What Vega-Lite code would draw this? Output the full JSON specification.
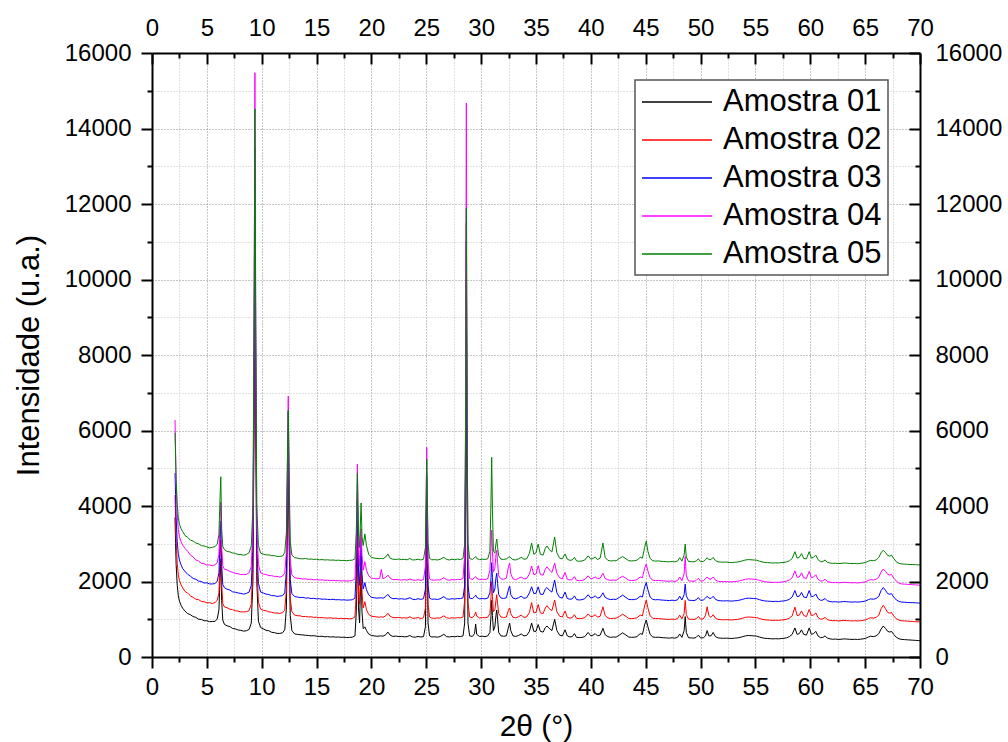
{
"$schema": "https://vega.github.io/schema/vega-lite/v6.json",
"width": 768, "height": 604,
"autosize": {"type": "none"},
"padding": {"left": 152, "top": 53, "right": 88, "bottom": 85},
"background": "white",
"config": {"view": {"stroke": null}, "font": "Liberation Sans",
  "axis": {"labelFont": "Liberation Sans", "titleFont": "Liberation Sans", "labelColor": "black", "titleColor": "black", "labelFlush": false, "labelOverlap": false, "titleFontWeight": "normal"}},
"resolve": {"axis": {"x": "independent", "y": "independent"}},
"layer": [
{
 "data": {"values": [{"t": 0, "v": 0}]},
 "mark": {"type": "point", "opacity": 0},
 "encoding": {
  "x": {"field": "t", "type": "quantitative", "scale": {"domain": [0, 70], "nice": false, "zero": false},
   "axis": {"orient": "bottom", "values": [2.5,7.5,12.5,17.5,22.5,27.5,32.5,37.5,42.5,47.5,52.5,57.5,62.5,67.5], "grid": true, "gridColor": "#c4c4c4", "gridDash": [1, 2], "gridWidth": 1, "ticks": true, "tickSize": 5, "tickWidth": 2, "tickColor": "black", "labels": false, "domain": false, "title": null, "zindex": 0}},
  "y": {"field": "v", "type": "quantitative", "scale": {"domain": [0, 16000], "nice": false},
   "axis": {"orient": "left", "values": [1000,3000,5000,7000,9000,11000,13000,15000], "grid": true, "gridColor": "#c4c4c4", "gridDash": [1, 2], "gridWidth": 1, "ticks": true, "tickSize": 5, "tickWidth": 2, "tickColor": "black", "labels": false, "domain": false, "title": null, "zindex": 0}}
 }
},
{
 "data": {"values": [{"t": 0, "v": 0}]},
 "mark": {"type": "point", "opacity": 0},
 "encoding": {
  "x": {"field": "t", "type": "quantitative", "scale": {"domain": [0, 70], "nice": false, "zero": false},
   "axis": {"orient": "bottom", "values": [5,10,15,20,25,30,35,40,45,50,55,60,65], "grid": true, "gridColor": "#8c8c8c", "gridDash": [1, 2], "gridWidth": 1, "ticks": false, "labels": false, "domain": false, "title": null, "zindex": 0}},
  "y": {"field": "v", "type": "quantitative", "scale": {"domain": [0, 16000], "nice": false},
   "axis": {"orient": "left", "values": [2000,4000,6000,8000,10000,12000,14000], "grid": true, "gridColor": "#8c8c8c", "gridDash": [1, 2], "gridWidth": 1, "ticks": false, "labels": false, "domain": false, "title": null, "zindex": 0}}
 }
},
{
 "data": {"values": [{"t": 0, "v": 0}]},
 "mark": {"type": "point", "opacity": 0},
 "encoding": {
  "x": {"field": "t", "type": "quantitative", "scale": {"domain": [0, 70], "nice": false, "zero": false},
   "axis": {"orient": "top", "values": [2.5,7.5,12.5,17.5,22.5,27.5,32.5,37.5,42.5,47.5,52.5,57.5,62.5,67.5], "grid": false, "ticks": true, "tickSize": -5, "tickWidth": 2, "tickColor": "black", "labels": false, "domain": false, "title": null, "zindex": 1}},
  "y": {"field": "v", "type": "quantitative", "scale": {"domain": [0, 16000], "nice": false},
   "axis": {"orient": "right", "values": [1000,3000,5000,7000,9000,11000,13000,15000], "grid": false, "ticks": true, "tickSize": -5, "tickWidth": 2, "tickColor": "black", "labels": false, "domain": false, "title": null, "zindex": 1}}
 }
},
{
 "data": {"values": [{"t": 0, "v": 0}]},
 "mark": {"type": "point", "opacity": 0},
 "encoding": {
  "x": {"field": "t", "type": "quantitative", "scale": {"domain": [0, 70], "nice": false, "zero": false},
   "axis": {"orient": "top", "values": [0,5,10,15,20,25,30,35,40,45,50,55,60,65,70], "format": "d", "grid": false, "ticks": true, "tickSize": -11, "tickWidth": 2, "tickColor": "black", "labels": true, "labelFontSize": 24, "labelPadding": 24, "domain": true, "domainWidth": 2, "domainColor": "black", "title": null, "zindex": 1}},
  "y": {"field": "v", "type": "quantitative", "scale": {"domain": [0, 16000], "nice": false},
   "axis": {"orient": "right", "values": [0,2000,4000,6000,8000,10000,12000,14000,16000], "format": "d", "grid": false, "ticks": true, "tickSize": -11, "tickWidth": 2, "tickColor": "black", "labels": true, "labelFontSize": 24, "labelPadding": 26, "domain": true, "domainWidth": 2, "domainColor": "black", "title": null, "zindex": 1}}
 }
},
{
 "data": {"values": [
{"t":2.1,"1":3700,"2":4290,"3":4870,"4":6280,"5":5940},
{"t":2.15,"1":3000,"2":3700,"3":4300,"4":5400,"5":5300},
{"t":2.2,"1":2450,"2":3100,"3":3700,"4":4600,"5":4700},
{"t":2.3,"1":1900,"2":2480,"3":3050,"4":3800,"5":4050},
{"t":2.4,"1":1620,"2":2170,"3":2720,"4":3380,"5":3680},
{"t":2.5,"1":1480,"2":2030,"3":2570,"4":3190,"5":3520},
{"t":2.65,"1":1370,"2":1910,"3":2440,"4":3050,"5":3400},
{"t":2.8,"1":1290,"2":1830,"3":2340,"4":2960,"5":3320},
{"t":3.0,"1":1220,"2":1740,"3":2270,"4":2880,"5":3220},
{"t":3.25,"1":1150,"2":1690,"3":2190,"4":2800,"5":3170},
{"t":3.5,"1":1120,"2":1620,"3":2140,"4":2700,"5":3100},
{"t":3.75,"1":1070,"2":1580,"3":2080,"4":2650,"5":3070},
{"t":4.0,"1":1050,"2":1530,"3":2060,"4":2570,"5":3020},
{"t":4.25,"1":1000,"2":1520,"3":2010,"4":2540,"5":3000},
{"t":4.5,"1":995,"2":1470,"3":2000,"4":2480,"5":2950},
{"t":4.75,"1":960,"2":1465,"3":1960,"4":2470,"5":2940},
{"t":5.0,"1":960,"2":1435,"3":1965,"4":2435,"5":2915},
{"t":5.25,"1":935,"2":1440,"3":1935,"4":2440,"5":2890},
{"t":5.5,"1":940,"2":1415,"3":1935,"4":2415,"5":2905},
{"t":5.75,"1":945,"2":1445,"3":1945,"4":2445,"5":2925},
{"t":5.95,"1":1010,"2":1500,"3":2010,"4":2500,"5":2990},
{"t":6.1,"1":1250,"2":1700,"3":2230,"4":2720,"5":3250},
{"t":6.2,"1":2100,"2":2600,"3":3100,"4":3600,"5":4200},
{"t":6.27,"1":2600,"2":3100,"3":3600,"4":4100,"5":4775},
{"t":6.35,"1":1500,"2":1950,"3":2450,"4":2950,"5":3400},
{"t":6.45,"1":980,"2":1420,"3":1920,"4":2420,"5":2930},
{"t":6.6,"1":865,"2":1325,"3":1835,"4":2325,"5":2845},
{"t":6.85,"1":825,"2":1305,"3":1795,"4":2305,"5":2795},
{"t":7.1,"1":805,"2":1265,"3":1775,"4":2265,"5":2785},
{"t":7.35,"1":755,"2":1255,"3":1725,"4":2245,"5":2755},
{"t":7.6,"1":745,"2":1225,"3":1715,"4":2215,"5":2745},
{"t":7.85,"1":715,"2":1215,"3":1695,"4":2205,"5":2715},
{"t":8.1,"1":705,"2":1195,"3":1685,"4":2185,"5":2715},
{"t":8.35,"1":685,"2":1195,"3":1665,"4":2185,"5":2695},
{"t":8.6,"1":695,"2":1200,"3":1685,"4":2190,"5":2715},
{"t":8.85,"1":730,"2":1230,"3":1720,"4":2230,"5":2760},
{"t":9.05,"1":900,"2":1400,"3":1900,"4":2400,"5":2950},
{"t":9.2,"1":2000,"2":2500,"3":3000,"4":3500,"5":4000},
{"t":9.3,"1":6000,"2":6800,"3":7500,"4":8500,"5":8500},
{"t":9.38,"1":11500,"2":12500,"3":13500,"4":15480,"5":14520},
{"t":9.46,"1":6000,"2":6800,"3":7500,"4":8500,"5":8500},
{"t":9.55,"1":2000,"2":2500,"3":3000,"4":3500,"5":4000},
{"t":9.7,"1":950,"2":1450,"3":1950,"4":2450,"5":2950},
{"t":9.9,"1":780,"2":1270,"3":1720,"4":2230,"5":2750},
{"t":10.15,"1":745,"2":1235,"3":1695,"4":2195,"5":2725},
{"t":10.4,"1":705,"2":1225,"3":1665,"4":2185,"5":2705},
{"t":10.65,"1":695,"2":1195,"3":1655,"4":2155,"5":2705},
{"t":10.9,"1":655,"2":1185,"3":1625,"4":2155,"5":2685},
{"t":11.15,"1":645,"2":1165,"3":1625,"4":2135,"5":2685},
{"t":11.4,"1":625,"2":1165,"3":1605,"4":2135,"5":2665},
{"t":11.65,"1":625,"2":1155,"3":1615,"4":2115,"5":2665},
{"t":11.9,"1":640,"2":1175,"3":1625,"4":2145,"5":2675},
{"t":12.1,"1":720,"2":1240,"3":1700,"4":2220,"5":2770},
{"t":12.25,"1":1300,"2":1800,"3":2300,"4":2800,"5":3300},
{"t":12.34,"1":3500,"2":4000,"3":4500,"4":5000,"5":5200},
{"t":12.42,"1":5500,"2":6000,"3":6500,"4":6910,"5":6540},
{"t":12.5,"1":3000,"2":3400,"3":3900,"4":4400,"5":4800},
{"t":12.6,"1":1100,"2":1550,"3":2050,"4":2550,"5":3050},
{"t":12.75,"1":700,"2":1200,"3":1680,"4":2180,"5":2700},
{"t":13.0,"1":610,"2":1110,"3":1600,"4":2100,"5":2630},
{"t":13.25,"1":600,"2":1095,"3":1590,"4":2085,"5":2620},
{"t":13.5,"1":590,"2":1090,"3":1575,"4":2080,"5":2605},
{"t":13.75,"1":585,"2":1070,"3":1580,"4":2065,"5":2600},
{"t":14.0,"1":575,"2":1075,"3":1560,"4":2070,"5":2610},
{"t":14.25,"1":570,"2":1060,"3":1565,"4":2055,"5":2590},
{"t":14.5,"1":560,"2":1065,"3":1550,"4":2060,"5":2595},
{"t":14.75,"1":565,"2":1050,"3":1555,"4":2045,"5":2585},
{"t":15.0,"1":550,"2":1055,"3":1540,"4":2050,"5":2590},
{"t":15.25,"1":545,"2":1040,"3":1545,"4":2040,"5":2575},
{"t":15.5,"1":550,"2":1045,"3":1530,"4":2045,"5":2580},
{"t":15.75,"1":535,"2":1035,"3":1535,"4":2030,"5":2570},
{"t":16.0,"1":540,"2":1030,"3":1525,"4":2035,"5":2575},
{"t":16.25,"1":530,"2":1040,"3":1520,"4":2025,"5":2565},
{"t":16.5,"1":535,"2":1025,"3":1530,"4":2030,"5":2570},
{"t":16.75,"1":525,"2":1030,"3":1515,"4":2020,"5":2560},
{"t":17.0,"1":530,"2":1020,"3":1520,"4":2025,"5":2565},
{"t":17.25,"1":520,"2":1025,"3":1510,"4":2015,"5":2555},
{"t":17.5,"1":525,"2":1015,"3":1515,"4":2020,"5":2560},
{"t":17.75,"1":515,"2":1020,"3":1505,"4":2010,"5":2550},
{"t":18.0,"1":520,"2":1010,"3":1510,"4":2015,"5":2560},
{"t":18.25,"1":525,"2":1020,"3":1515,"4":2025,"5":2565},
{"t":18.5,"1":560,"2":1060,"3":1560,"4":2070,"5":2600},
{"t":18.62,"1":1200,"2":1700,"3":2300,"4":2900,"5":3300},
{"t":18.72,"1":3000,"2":3600,"3":4200,"4":5110,"5":4870},
{"t":18.82,"1":1300,"2":1800,"3":2300,"4":2900,"5":3300},
{"t":18.92,"1":900,"2":1400,"3":1900,"4":2400,"5":2900},
{"t":19.0,"1":1800,"2":2300,"3":2700,"4":3200,"5":3600},
{"t":19.06,"1":2300,"2":2700,"3":3100,"4":3400,"5":4080},
{"t":19.14,"1":1200,"2":1700,"3":2200,"4":2700,"5":3200},
{"t":19.25,"1":750,"2":1300,"3":1800,"4":2300,"5":2950},
{"t":19.4,"1":800,"2":1465,"3":1970,"4":2525,"5":3260},
{"t":19.55,"1":700,"2":1250,"3":1780,"4":2300,"5":2950},
{"t":19.75,"1":610,"2":1130,"3":1650,"4":2150,"5":2720},
{"t":20.0,"1":570,"2":1080,"3":1580,"4":2090,"5":2640},
{"t":20.25,"1":560,"2":1070,"3":1570,"4":2080,"5":2620},
{"t":20.5,"1":550,"2":1060,"3":1560,"4":2070,"5":2610},
{"t":20.75,"1":555,"2":1055,"3":1565,"4":2080,"5":2605},
{"t":20.9,"1":560,"2":1065,"3":1570,"4":2320,"5":2615},
{"t":21.05,"1":550,"2":1050,"3":1555,"4":2075,"5":2600},
{"t":21.3,"1":590,"2":1090,"3":1600,"4":2110,"5":2650},
{"t":21.5,"1":660,"2":1160,"3":1660,"4":2170,"5":2730},
{"t":21.7,"1":580,"2":1080,"3":1580,"4":2090,"5":2620},
{"t":21.95,"1":545,"2":1045,"3":1545,"4":2050,"5":2590},
{"t":22.25,"1":555,"2":1040,"3":1550,"4":2055,"5":2585},
{"t":22.5,"1":540,"2":1050,"3":1535,"4":2045,"5":2595},
{"t":22.75,"1":545,"2":1035,"3":1545,"4":2040,"5":2580},
{"t":23.0,"1":535,"2":1040,"3":1530,"4":2050,"5":2585},
{"t":23.25,"1":540,"2":1030,"3":1540,"4":2035,"5":2575},
{"t":23.5,"1":570,"2":1065,"3":1570,"4":2065,"5":2610},
{"t":23.75,"1":530,"2":1025,"3":1530,"4":2040,"5":2570},
{"t":24.0,"1":525,"2":1030,"3":1520,"4":2030,"5":2575},
{"t":24.25,"1":545,"2":1045,"3":1545,"4":2050,"5":2590},
{"t":24.5,"1":530,"2":1020,"3":1525,"4":2030,"5":2570},
{"t":24.75,"1":540,"2":1040,"3":1545,"4":2050,"5":2590},
{"t":24.92,"1":800,"2":1300,"3":1800,"4":2400,"5":2900},
{"t":25.04,"1":3800,"2":4300,"3":4800,"4":5555,"5":5245},
{"t":25.16,"1":900,"2":1400,"3":1900,"4":2500,"5":3000},
{"t":25.3,"1":560,"2":1060,"3":1560,"4":2070,"5":2610},
{"t":25.5,"1":530,"2":1030,"3":1530,"4":2040,"5":2575},
{"t":25.75,"1":535,"2":1025,"3":1535,"4":2035,"5":2580},
{"t":26.0,"1":525,"2":1035,"3":1525,"4":2045,"5":2570},
{"t":26.25,"1":540,"2":1030,"3":1540,"4":2040,"5":2585},
{"t":26.6,"1":600,"2":1090,"3":1600,"4":2100,"5":2640},
{"t":26.85,"1":540,"2":1040,"3":1540,"4":2050,"5":2585},
{"t":27.1,"1":530,"2":1025,"3":1530,"4":2035,"5":2570},
{"t":27.35,"1":545,"2":1040,"3":1545,"4":2050,"5":2590},
{"t":27.6,"1":535,"2":1030,"3":1535,"4":2040,"5":2575},
{"t":27.85,"1":550,"2":1045,"3":1550,"4":2060,"5":2595},
{"t":28.1,"1":540,"2":1035,"3":1545,"4":2050,"5":2580},
{"t":28.35,"1":560,"2":1060,"3":1570,"4":2080,"5":2610},
{"t":28.5,"1":900,"2":1500,"3":1900,"4":2700,"5":3000},
{"t":28.58,"1":4000,"2":5000,"3":5000,"4":6500,"5":6000},
{"t":28.65,"1":10000,"2":11500,"3":11000,"4":14675,"5":11890},
{"t":28.72,"1":4000,"2":5000,"3":5000,"4":6500,"5":6000},
{"t":28.8,"1":900,"2":1450,"3":1900,"4":2650,"5":3000},
{"t":28.95,"1":560,"2":1060,"3":1560,"4":2080,"5":2610},
{"t":29.2,"1":545,"2":1040,"3":1545,"4":2055,"5":2585},
{"t":29.4,"1":620,"2":1110,"3":1600,"4":2100,"5":2630},
{"t":29.5,"1":870,"2":1190,"3":1640,"4":2130,"5":2660},
{"t":29.6,"1":600,"2":1080,"3":1580,"4":2080,"5":2610},
{"t":29.85,"1":545,"2":1035,"3":1540,"4":2050,"5":2580},
{"t":30.1,"1":550,"2":1045,"3":1550,"4":2060,"5":2590},
{"t":30.35,"1":540,"2":1040,"3":1540,"4":2055,"5":2585},
{"t":30.6,"1":560,"2":1055,"3":1560,"4":2070,"5":2600},
{"t":30.8,"1":650,"2":1150,"3":1700,"4":2300,"5":2800},
{"t":30.9,"1":1100,"2":1600,"3":2100,"4":2900,"5":4200},
{"t":30.96,"1":1500,"2":2000,"3":2500,"4":3360,"5":5290},
{"t":31.03,"1":1100,"2":1600,"3":2100,"4":2800,"5":3900},
{"t":31.12,"1":700,"2":1200,"3":1700,"4":2250,"5":2800},
{"t":31.25,"1":800,"2":1250,"3":1800,"4":2350,"5":2750},
{"t":31.35,"1":1100,"2":1500,"3":2100,"4":2700,"5":3000},
{"t":31.42,"1":1245,"2":1650,"3":2220,"4":2830,"5":3125},
{"t":31.5,"1":1000,"2":1400,"3":1950,"4":2500,"5":2900},
{"t":31.6,"1":650,"2":1150,"3":1650,"4":2150,"5":2680},
{"t":31.8,"1":560,"2":1060,"3":1565,"4":2070,"5":2590},
{"t":32.05,"1":550,"2":1045,"3":1550,"4":2060,"5":2585},
{"t":32.3,"1":560,"2":1060,"3":1570,"4":2090,"5":2600},
{"t":32.5,"1":800,"2":1250,"3":1800,"4":2400,"5":2640},
{"t":32.6,"1":900,"2":1300,"3":1880,"4":2490,"5":2660},
{"t":32.7,"1":700,"2":1150,"3":1650,"4":2200,"5":2620},
{"t":32.9,"1":560,"2":1050,"3":1560,"4":2070,"5":2580},
{"t":33.15,"1":545,"2":1040,"3":1540,"4":2050,"5":2570},
{"t":33.4,"1":570,"2":1065,"3":1570,"4":2080,"5":2600},
{"t":33.65,"1":610,"2":1110,"3":1610,"4":2120,"5":2640},
{"t":33.9,"1":560,"2":1050,"3":1555,"4":2070,"5":2590},
{"t":34.15,"1":570,"2":1060,"3":1570,"4":2080,"5":2600},
{"t":34.4,"1":680,"2":1180,"3":1700,"4":2200,"5":2750},
{"t":34.6,"1":900,"2":1440,"3":1860,"4":2410,"5":3020},
{"t":34.8,"1":680,"2":1170,"3":1680,"4":2180,"5":2720},
{"t":35.0,"1":680,"2":1180,"3":1690,"4":2200,"5":2760},
{"t":35.2,"1":860,"2":1390,"3":1860,"4":2420,"5":2990},
{"t":35.4,"1":680,"2":1170,"3":1660,"4":2180,"5":2720},
{"t":35.65,"1":660,"2":1150,"3":1660,"4":2170,"5":2700},
{"t":35.85,"1":780,"2":1300,"3":1800,"4":2330,"5":2880},
{"t":36.0,"1":820,"2":1360,"3":1840,"4":2390,"5":2940},
{"t":36.2,"1":760,"2":1280,"3":1770,"4":2310,"5":2850},
{"t":36.45,"1":700,"2":1230,"3":1720,"4":2240,"5":2780},
{"t":36.7,"1":1000,"2":1510,"3":2040,"4":2490,"5":3180},
{"t":36.9,"1":700,"2":1200,"3":1700,"4":2220,"5":2760},
{"t":37.15,"1":580,"2":1080,"3":1580,"4":2100,"5":2620},
{"t":37.4,"1":560,"2":1060,"3":1560,"4":2070,"5":2600},
{"t":37.65,"1":720,"2":1220,"3":1720,"4":2240,"5":2730},
{"t":37.85,"1":560,"2":1050,"3":1550,"4":2060,"5":2590},
{"t":38.1,"1":530,"2":1030,"3":1530,"4":2040,"5":2560},
{"t":38.3,"1":540,"2":1040,"3":1540,"4":2050,"5":2570},
{"t":38.5,"1":620,"2":1120,"3":1620,"4":2130,"5":2640},
{"t":38.7,"1":520,"2":1025,"3":1520,"4":2030,"5":2545},
{"t":38.95,"1":515,"2":1015,"3":1510,"4":2020,"5":2535},
{"t":39.2,"1":520,"2":1025,"3":1520,"4":2030,"5":2545},
{"t":39.45,"1":540,"2":1040,"3":1545,"4":2055,"5":2570},
{"t":39.75,"1":650,"2":1140,"3":1650,"4":2150,"5":2680},
{"t":40.0,"1":560,"2":1070,"3":1560,"4":2070,"5":2590},
{"t":40.2,"1":580,"2":1080,"3":1580,"4":2090,"5":2610},
{"t":40.4,"1":620,"2":1120,"3":1620,"4":2120,"5":2650},
{"t":40.6,"1":560,"2":1055,"3":1560,"4":2070,"5":2580},
{"t":40.85,"1":580,"2":1080,"3":1580,"4":2090,"5":2620},
{"t":41.1,"1":760,"2":1330,"3":1700,"4":2220,"5":3020},
{"t":41.3,"1":590,"2":1100,"3":1580,"4":2080,"5":2640},
{"t":41.55,"1":540,"2":1035,"3":1540,"4":2045,"5":2560},
{"t":41.8,"1":520,"2":1020,"3":1520,"4":2030,"5":2545},
{"t":42.05,"1":530,"2":1025,"3":1530,"4":2040,"5":2550},
{"t":42.3,"1":525,"2":1030,"3":1525,"4":2030,"5":2550},
{"t":42.6,"1":580,"2":1075,"3":1580,"4":2090,"5":2610},
{"t":42.9,"1":640,"2":1135,"3":1640,"4":2140,"5":2660},
{"t":43.2,"1":580,"2":1075,"3":1575,"4":2085,"5":2600},
{"t":43.45,"1":530,"2":1025,"3":1525,"4":2035,"5":2550},
{"t":43.7,"1":520,"2":1015,"3":1520,"4":2025,"5":2545},
{"t":43.95,"1":525,"2":1025,"3":1520,"4":2030,"5":2550},
{"t":44.2,"1":540,"2":1040,"3":1540,"4":2050,"5":2565},
{"t":44.5,"1":620,"2":1110,"3":1610,"4":2120,"5":2640},
{"t":44.7,"1":600,"2":1090,"3":1590,"4":2100,"5":2620},
{"t":44.9,"1":850,"2":1350,"3":1850,"4":2350,"5":2900},
{"t":45.05,"1":980,"2":1510,"3":1970,"4":2460,"5":3070},
{"t":45.2,"1":800,"2":1300,"3":1780,"4":2280,"5":2800},
{"t":45.4,"1":600,"2":1090,"3":1590,"4":2100,"5":2610},
{"t":45.65,"1":530,"2":1025,"3":1525,"4":2035,"5":2550},
{"t":45.9,"1":520,"2":1015,"3":1515,"4":2025,"5":2540},
{"t":46.15,"1":525,"2":1020,"3":1520,"4":2030,"5":2545},
{"t":46.4,"1":515,"2":1010,"3":1510,"4":2020,"5":2535},
{"t":46.65,"1":510,"2":1005,"3":1505,"4":2015,"5":2530},
{"t":46.9,"1":505,"2":1000,"3":1500,"4":2010,"5":2525},
{"t":47.15,"1":500,"2":995,"3":1495,"4":2005,"5":2520},
{"t":47.4,"1":510,"2":1005,"3":1505,"4":2015,"5":2530},
{"t":47.65,"1":500,"2":995,"3":1495,"4":2000,"5":2520},
{"t":47.9,"1":520,"2":1015,"3":1515,"4":2025,"5":2540},
{"t":48.1,"1":610,"2":1110,"3":1610,"4":2120,"5":2630},
{"t":48.3,"1":520,"2":1010,"3":1510,"4":2020,"5":2540},
{"t":48.5,"1":700,"2":1150,"3":1650,"4":2200,"5":2700},
{"t":48.6,"1":1070,"2":1500,"3":1930,"4":2660,"5":2990},
{"t":48.7,"1":650,"2":1120,"3":1620,"4":2150,"5":2650},
{"t":48.9,"1":510,"2":1005,"3":1505,"4":2015,"5":2530},
{"t":49.15,"1":505,"2":1000,"3":1500,"4":2010,"5":2525},
{"t":49.4,"1":500,"2":995,"3":1495,"4":2005,"5":2520},
{"t":49.6,"1":520,"2":1015,"3":1515,"4":2025,"5":2545},
{"t":49.8,"1":580,"2":1075,"3":1575,"4":2085,"5":2600},
{"t":50.0,"1":505,"2":1000,"3":1500,"4":2010,"5":2525},
{"t":50.25,"1":510,"2":1010,"3":1510,"4":2020,"5":2530},
{"t":50.45,"1":560,"2":1100,"3":1560,"4":2070,"5":2580},
{"t":50.6,"1":700,"2":1330,"3":1610,"4":2120,"5":2630},
{"t":50.75,"1":560,"2":1100,"3":1560,"4":2070,"5":2580},
{"t":50.95,"1":560,"2":1050,"3":1550,"4":2060,"5":2580},
{"t":51.15,"1":650,"2":1120,"3":1610,"4":2120,"5":2640},
{"t":51.35,"1":540,"2":1030,"3":1530,"4":2040,"5":2555},
{"t":51.6,"1":505,"2":995,"3":1495,"4":2005,"5":2520},
{"t":51.85,"1":500,"2":990,"3":1490,"4":2000,"5":2515},
{"t":52.1,"1":495,"2":985,"3":1485,"4":1995,"5":2510},
{"t":52.35,"1":500,"2":990,"3":1490,"4":2000,"5":2515},
{"t":52.6,"1":495,"2":985,"3":1485,"4":1990,"5":2505},
{"t":52.85,"1":490,"2":980,"3":1480,"4":1990,"5":2500},
{"t":53.1,"1":500,"2":990,"3":1490,"4":2000,"5":2510},
{"t":53.35,"1":505,"2":995,"3":1495,"4":2005,"5":2515},
{"t":53.6,"1":520,"2":1010,"3":1510,"4":2020,"5":2530},
{"t":53.85,"1":540,"2":1030,"3":1530,"4":2040,"5":2550},
{"t":54.1,"1":560,"2":1050,"3":1550,"4":2060,"5":2570},
{"t":54.35,"1":570,"2":1060,"3":1560,"4":2070,"5":2580},
{"t":54.6,"1":565,"2":1055,"3":1555,"4":2065,"5":2575},
{"t":54.85,"1":560,"2":1050,"3":1550,"4":2060,"5":2570},
{"t":55.1,"1":555,"2":1045,"3":1545,"4":2055,"5":2565},
{"t":55.35,"1":530,"2":1020,"3":1520,"4":2030,"5":2540},
{"t":55.6,"1":510,"2":1000,"3":1500,"4":2010,"5":2520},
{"t":55.85,"1":495,"2":985,"3":1485,"4":1995,"5":2505},
{"t":56.1,"1":490,"2":980,"3":1480,"4":1985,"5":2500},
{"t":56.35,"1":485,"2":975,"3":1475,"4":1980,"5":2495},
{"t":56.6,"1":480,"2":970,"3":1470,"4":1975,"5":2490},
{"t":56.85,"1":485,"2":975,"3":1475,"4":1980,"5":2495},
{"t":57.1,"1":480,"2":970,"3":1470,"4":1975,"5":2490},
{"t":57.35,"1":490,"2":980,"3":1480,"4":1985,"5":2500},
{"t":57.6,"1":495,"2":985,"3":1485,"4":1995,"5":2505},
{"t":57.85,"1":510,"2":1000,"3":1500,"4":2010,"5":2520},
{"t":58.1,"1":540,"2":1030,"3":1530,"4":2040,"5":2550},
{"t":58.35,"1":600,"2":1090,"3":1590,"4":2100,"5":2610},
{"t":58.6,"1":770,"2":1320,"3":1760,"4":2280,"5":2790},
{"t":58.8,"1":600,"2":1100,"3":1600,"4":2110,"5":2620},
{"t":59.0,"1":620,"2":1110,"3":1610,"4":2120,"5":2640},
{"t":59.2,"1":720,"2":1220,"3":1710,"4":2230,"5":2740},
{"t":59.4,"1":600,"2":1100,"3":1590,"4":2100,"5":2610},
{"t":59.65,"1":580,"2":1070,"3":1570,"4":2080,"5":2600},
{"t":59.9,"1":770,"2":1260,"3":1760,"4":2270,"5":2790},
{"t":60.1,"1":600,"2":1100,"3":1600,"4":2100,"5":2620},
{"t":60.3,"1":620,"2":1110,"3":1610,"4":2120,"5":2640},
{"t":60.5,"1":680,"2":1170,"3":1670,"4":2180,"5":2700},
{"t":60.7,"1":560,"2":1050,"3":1550,"4":2060,"5":2580},
{"t":60.95,"1":510,"2":1000,"3":1500,"4":2010,"5":2520},
{"t":61.15,"1":520,"2":1010,"3":1510,"4":2020,"5":2530},
{"t":61.35,"1":560,"2":1050,"3":1550,"4":2060,"5":2570},
{"t":61.55,"1":500,"2":990,"3":1490,"4":2000,"5":2510},
{"t":61.8,"1":480,"2":970,"3":1470,"4":1980,"5":2490},
{"t":62.05,"1":470,"2":960,"3":1460,"4":1970,"5":2480},
{"t":62.3,"1":475,"2":965,"3":1465,"4":1975,"5":2485},
{"t":62.55,"1":465,"2":955,"3":1455,"4":1965,"5":2475},
{"t":62.8,"1":470,"2":960,"3":1460,"4":1970,"5":2480},
{"t":63.05,"1":480,"2":970,"3":1470,"4":1980,"5":2490},
{"t":63.3,"1":475,"2":965,"3":1465,"4":1975,"5":2485},
{"t":63.55,"1":470,"2":960,"3":1460,"4":1970,"5":2480},
{"t":63.8,"1":465,"2":955,"3":1455,"4":1965,"5":2475},
{"t":64.05,"1":470,"2":960,"3":1460,"4":1970,"5":2480},
{"t":64.3,"1":465,"2":955,"3":1455,"4":1960,"5":2470},
{"t":64.55,"1":470,"2":960,"3":1460,"4":1970,"5":2480},
{"t":64.8,"1":480,"2":970,"3":1470,"4":1980,"5":2490},
{"t":65.05,"1":495,"2":985,"3":1485,"4":1995,"5":2505},
{"t":65.3,"1":530,"2":1020,"3":1520,"4":2030,"5":2540},
{"t":65.5,"1":550,"2":1040,"3":1540,"4":2050,"5":2560},
{"t":65.75,"1":540,"2":1030,"3":1530,"4":2040,"5":2550},
{"t":66.0,"1":560,"2":1050,"3":1550,"4":2060,"5":2570},
{"t":66.25,"1":620,"2":1110,"3":1610,"4":2120,"5":2640},
{"t":66.45,"1":740,"2":1280,"3":1760,"4":2250,"5":2760},
{"t":66.65,"1":820,"2":1370,"3":1840,"4":2330,"5":2830},
{"t":66.85,"1":760,"2":1280,"3":1770,"4":2270,"5":2770},
{"t":67.05,"1":680,"2":1180,"3":1680,"4":2190,"5":2690},
{"t":67.25,"1":660,"2":1160,"3":1660,"4":2170,"5":2670},
{"t":67.4,"1":680,"2":1180,"3":1680,"4":2190,"5":2700},
{"t":67.6,"1":600,"2":1090,"3":1590,"4":2090,"5":2610},
{"t":67.85,"1":520,"2":1010,"3":1510,"4":2010,"5":2520},
{"t":68.1,"1":480,"2":975,"3":1470,"4":1950,"5":2480},
{"t":68.35,"1":465,"2":960,"3":1455,"4":1935,"5":2465},
{"t":68.6,"1":460,"2":955,"3":1450,"4":1930,"5":2460},
{"t":68.85,"1":455,"2":950,"3":1445,"4":1925,"5":2455},
{"t":69.1,"1":450,"2":945,"3":1440,"4":1920,"5":2450},
{"t":69.35,"1":445,"2":940,"3":1440,"4":1915,"5":2450},
{"t":69.6,"1":440,"2":935,"3":1435,"4":1910,"5":2445},
{"t":69.85,"1":435,"2":930,"3":1430,"4":1905,"5":2440},
{"t":70.0,"1":433,"2":930,"3":1430,"4":1900,"5":2440}
 ]},
 "transform": [{"fold": ["1", "2", "3", "4", "5"], "as": ["s", "v"]}],
 "mark": {"type": "line", "strokeWidth": 1, "clip": true},
 "encoding": {
  "x": {"field": "t", "type": "quantitative", "scale": {"domain": [0, 70], "nice": false, "zero": false},
   "axis": {"orient": "bottom", "values": [0,5,10,15,20,25,30,35,40,45,50,55,60,65,70], "format": "d", "grid": false, "ticks": true, "tickSize": 11, "tickWidth": 2, "tickColor": "black", "labels": true, "labelFontSize": 24, "labelPadding": 7, "domain": true, "domainWidth": 2, "domainColor": "black", "title": "2θ (°)", "titleFontSize": 30, "titlePadding": 12, "zindex": 1}},
  "y": {"field": "v", "type": "quantitative", "scale": {"domain": [0, 16000], "nice": false},
   "axis": {"orient": "left", "values": [0,2000,4000,6000,8000,10000,12000,14000,16000], "format": "d", "grid": false, "ticks": true, "tickSize": 11, "tickWidth": 2, "tickColor": "black", "labels": true, "labelFontSize": 24, "labelPadding": 10, "domain": true, "domainWidth": 2, "domainColor": "black", "title": "Intensidade (u.a.)", "titleFontSize": 31, "titlePadding": 19, "zindex": 1}},
  "color": {"field": "s", "type": "nominal",
   "scale": {"domain": ["1", "2", "3", "4", "5"], "range": ["#000000", "#ff0000", "#0000ff", "#ff00ff", "#008000"]},
   "legend": {"orient": "none", "legendX": 483, "legendY": 27, "title": null, "symbolType": "M-1,0H3.667", "symbolSize": 900, "symbolStrokeWidth": 1.5, "labelFontSize": 31, "labelFont": "Liberation Sans", "labelColor": "black", "labelOffset": 50, "labelExpr": "'Amostra 0' + datum.label", "strokeColor": "#555555", "fillColor": "white", "padding": 6, "rowPadding": 7,
    "encode": {"legend": {"update": {"strokeWidth": {"value": 1.5}}}}}}
 }
}
]
}
